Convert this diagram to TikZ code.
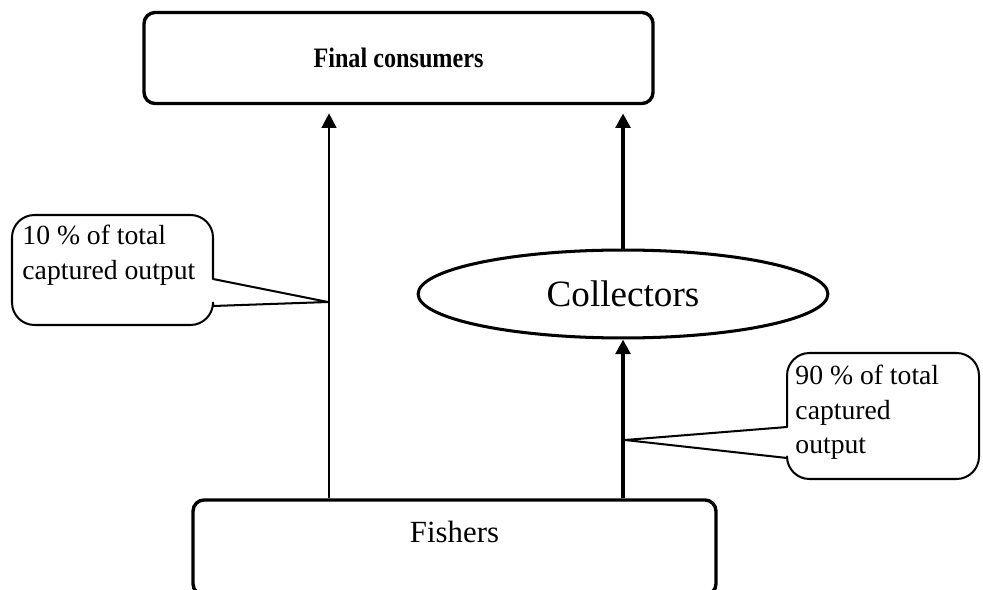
\documentclass[tikz,border=0pt]{standalone}
\usepackage{fontspec}
\setmainfont{Liberation Serif}
\usetikzlibrary{arrows.meta,shapes.geometric}
\def\px{0.015625cm}
\begin{document}
\begin{tikzpicture}[x=\px, y=-\px, line join=round, font={\fontsize{12.3pt}{15.3pt}\selectfont},
	termbox/.style={draw, rounded corners=5pt, line width=1.5pt, inner sep=0pt},
	collnode/.style={draw, ellipse, line width=1.35pt, inner sep=0pt},
	notebox/.style={draw, line width=0.9pt},
	thinarr/.style={-{Triangle[width=6.5pt,length=6.5pt]}, line width=1.1pt},
	thickarr/.style={-{Triangle[width=6.5pt,length=6.5pt]}, line width=2.1pt}]
		% Khung
		\useasboundingbox (0,0) rectangle (983,590);
		\node[termbox, minimum width=226.3pt, minimum height=40.5pt, font={\fontsize{12.5pt}{15pt}\selectfont\bfseries}] (final) at (398.5,58) {\scalebox{0.86}[1]{Final consumers}};
		\node[collnode, minimum width=182.2pt, minimum height=39.1pt, font={\fontsize{16.5pt}{18pt}\selectfont}] (coll) at (623,294) {Collectors};
		\node[termbox, minimum width=232.5pt, text height=18.7pt, text depth=23.6pt, anchor=base, font={\fontsize{13.7pt}{16pt}\selectfont}] (fish) at (454.5,542) {Fishers};
		% Mui ten
		\coordinate (lx) at (329,0);
		\draw[thinarr, shorten >=3.6pt] (fish.north -| lx) -- (final.south -| lx);
		\draw[thickarr] (fish.north -| coll) -- (coll.south);
		\draw[thickarr, shorten >=3.6pt] (coll.north) -- (final.south -| coll);
		% Chu thich
		\coordinate (tipl) at (328,302);
		\draw[notebox] (tipl) -- (213,279) [rounded corners=10pt] -- (213,215) -- (12,215) -- (12,325) -- (213,325) [sharp corners] -- (213,306) -- cycle;
		\node[anchor=north west, align=left, inner sep=0pt] (lnote) at (22,225) {10 \% of total\\captured output};
		\coordinate (tipr) at (625,440);
		\draw[notebox] (tipr) -- (787,427) [rounded corners=10pt] -- (787,353) -- (979,353) -- (979,479) -- (787,479) [sharp corners] -- (787,458) -- cycle;
		\node[anchor=north west, align=left, inner sep=0pt] (rnote) at (795,365) {90 \% of total\\captured\\output};
	\end{tikzpicture}
\end{document}
